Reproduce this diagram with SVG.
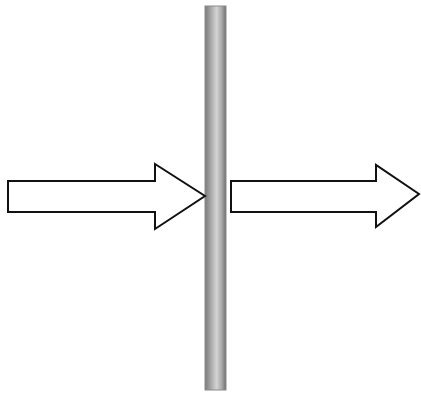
<svg xmlns="http://www.w3.org/2000/svg" width="421" height="399" viewBox="0 0 421 399">
<defs>
<linearGradient id="bar" x1="0" y1="0" x2="1" y2="0">
<stop offset="0" stop-color="#7a7a7a"/>
<stop offset="0.2" stop-color="#9a9a9a"/>
<stop offset="0.55" stop-color="#d4d4d4"/>
<stop offset="0.8" stop-color="#a8a8a8"/>
<stop offset="1" stop-color="#6e6e6e"/>
</linearGradient>
<style>.arrow{fill:#ffffff;stroke:#111;stroke-width:2;stroke-linejoin:miter}</style>
</defs>
<rect width="421" height="399" fill="#ffffff"/>
<g id="bar-node">
<rect x="205" y="6" width="21" height="384" fill="url(#bar)" stroke="#8a8a8a" stroke-width="1"/>
</g>
<g id="connectors">
<polygon class="arrow" points="8,181 155,181 155,164 205,196 155,229 155,212 8,212"/>
<polygon class="arrow" points="231,181 376,181 376,165 419,194 376,227 376,212 231,212"/>
</g>
</svg>
